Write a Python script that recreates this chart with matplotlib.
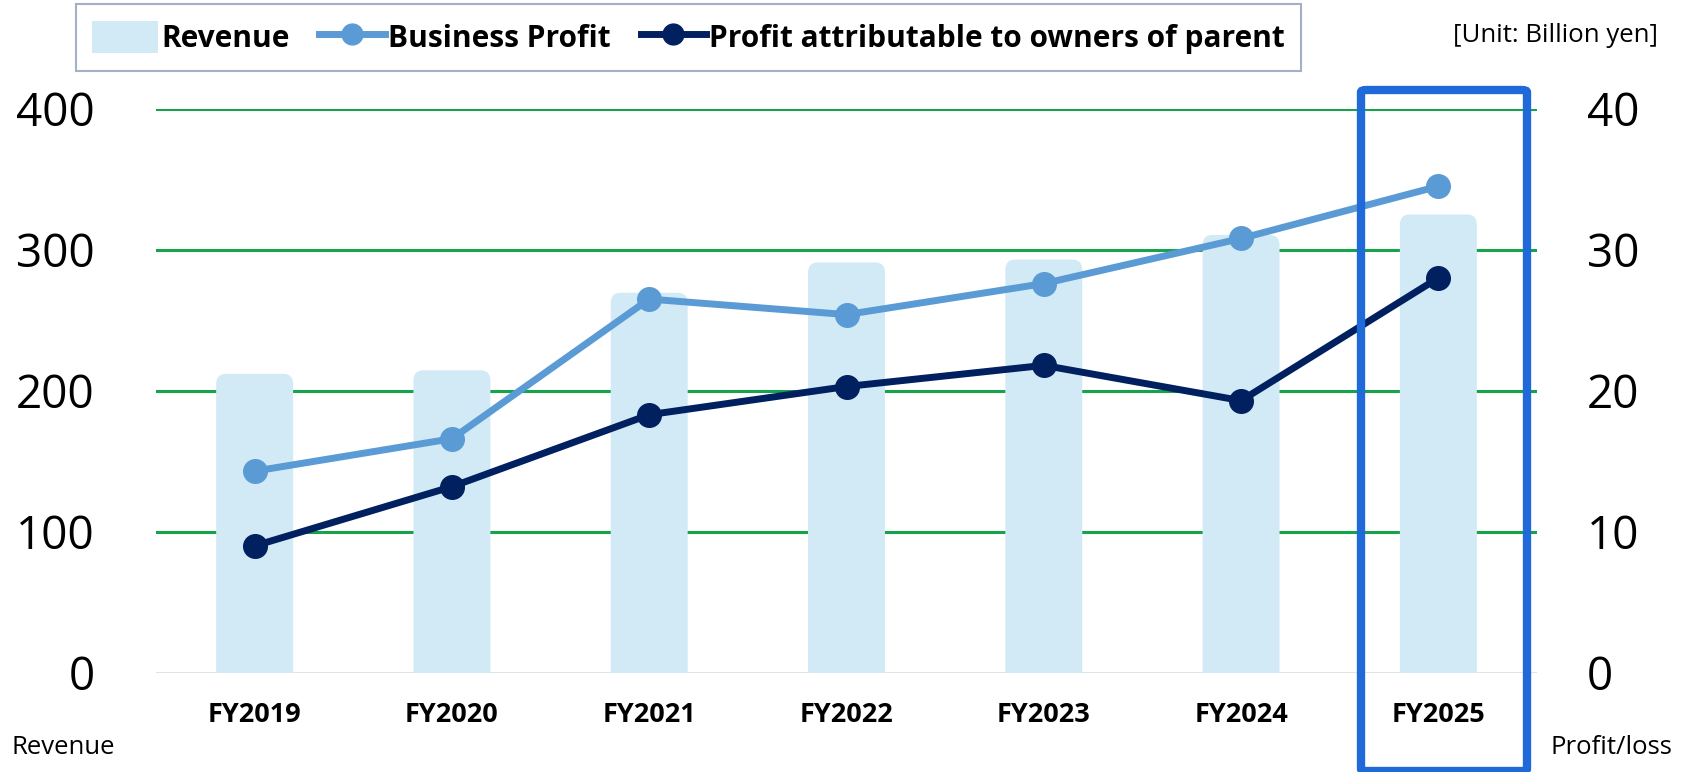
import matplotlib
matplotlib.use("Agg")
import matplotlib.pyplot as plt
from matplotlib.patches import FancyBboxPatch, Patch
from matplotlib.lines import Line2D

categories = ["FY2019", "FY2020", "FY2021", "FY2022", "FY2023", "FY2024", "FY2025"]
revenue = [212, 214.5, 269.5, 291, 293, 310.5, 325]
business_profit = [14.3, 16.6, 26.5, 25.4, 27.6, 30.8, 34.5]
profit_parent = [9.0, 13.2, 18.3, 20.3, 21.8, 19.3, 28.0]
left_ticks = [0, 100, 200, 300, 400]
right_ticks = [0, 10, 20, 30, 40]

plt.rcParams['font.family'] = ['Open Sans', 'DejaVu Sans']

W, H = 1688, 772
fig = plt.figure(figsize=(W / 100, H / 100), dpi=100)
ax = fig.add_axes([156 / W, 1 - 672.8 / H, (1537 - 156) / W, (672.8 - 108.7) / H])
ax2 = ax.twinx()

x = list(range(len(categories)))
bar_color = "#d2eaf5"
bars = ax.bar(x, revenue, width=0.39, color=bar_color, zorder=2)
ax.set_xlim(-0.5, len(categories) - 0.5)
ax.set_ylim(0, 400)
# replace with rounded-top bars (same geometry as the library's bars)
r = 0.05
aspect = 142
for b in bars:
    bx, by, bw, bh = b.get_x(), b.get_y(), b.get_width(), b.get_height()
    b.set_visible(False)
    p = FancyBboxPatch((bx, by - 20), bw, bh + 20,
                       boxstyle=f"round,pad=0,rounding_size={r}", mutation_aspect=aspect,
                       facecolor=bar_color, edgecolor='none', zorder=2)
    ax.add_patch(p)

ax.set_yticks(left_ticks)
ax.yaxis.grid(True, color="#16a34a", linewidth=2.2, zorder=0)
ax.yaxis.get_gridlines()[0].set_visible(False)
ax.set_axisbelow(True)
for s in ax.spines.values():
    s.set_visible(False)
for s in ax2.spines.values():
    s.set_visible(False)
ax.axhline(0, color="#d9d9d9", linewidth=1.8, zorder=1)
ax.tick_params(axis='y', length=0, labelsize=33, pad=44)
ax.tick_params(axis='x', length=0, pad=21)
ax.set_xticks(x)
ax.set_xticklabels(categories, fontsize=19.5, fontweight='bold')

ax2.set_ylim(0, 40)
ax2.set_yticks(right_ticks)
ax2.tick_params(axis='y', length=0, labelsize=33, pad=36)
ax2.plot(x, business_profit, color="#5b9bd5", linewidth=5, marker='o', markersize=17, zorder=3)
ax2.plot(x, profit_parent, color="#002060", linewidth=5, marker='o', markersize=17, zorder=4)

# highlight box
rect = FancyBboxPatch((1361 / W, 1 - 771 / H), (1527 - 1361) / W, (771 - 90) / H,
                      boxstyle="round,pad=0,rounding_size=0.003", transform=fig.transFigure,
                      fill=False, edgecolor="#1f69d9", linewidth=6, clip_on=False, zorder=10)
fig.patches.append(rect)

handles = [Patch(facecolor=bar_color, edgecolor='none'),
           Line2D([], [], color="#5b9bd5", linewidth=5, marker='o', markersize=15),
           Line2D([], [], color="#002060", linewidth=5, marker='o', markersize=15)]
labels = ["Revenue", "Business Profit", "Profit attributable to owners of parent"]
leg = fig.legend(handles, labels, loc='center', bbox_to_anchor=(0.408, 1 - 37.5 / H), ncol=3,
                 frameon=True, fancybox=False, handlelength=2.2, handleheight=1.3,
                 handletextpad=0.1, columnspacing=1.0, borderpad=0.55,
                 prop={'size': 21.5, 'weight': 'bold', 'family': 'Open Sans'})
leg.get_frame().set_edgecolor("#8c9dbb")
leg.get_frame().set_linewidth(1.5)

fig.text(1658 / W, 1 - 35.5 / H, "[Unit: Billion yen]", ha='right', va='center', fontsize=18.5)
fig.text(11 / W, 1 - 748 / H, "Revenue", ha='left', va='center', fontsize=18.5)
fig.text(1672 / W, 1 - 748 / H, "Profit/loss", ha='right', va='center', fontsize=18.5)

fig.savefig("out.png", dpi=100)
